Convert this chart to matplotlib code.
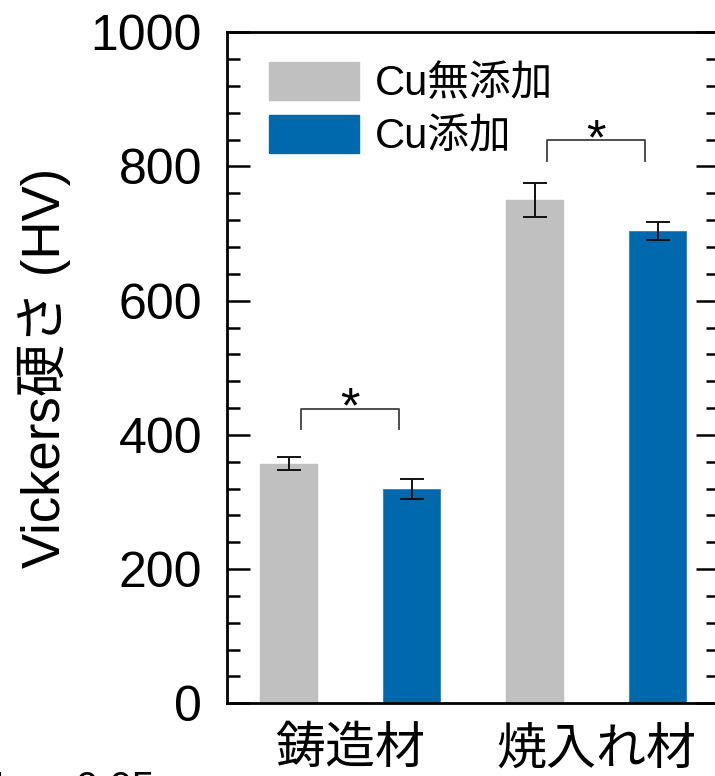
import numpy as np
import matplotlib
matplotlib.use("Agg")
import matplotlib.pyplot as plt
from matplotlib.patches import Patch
from matplotlib.ticker import MultipleLocator, AutoMinorLocator

plt.rcParams['font.family'] = ['Liberation Sans', 'Noto Sans CJK JP', 'DejaVu Sans']

# hardness data (HV), mean and error
groups = ['鋳造材', '焼入れ材']
series = ['Cu無添加', 'Cu添加']
no_cu = [357, 750]
no_cu_err = [10, 25]
with_cu = [319, 704]
with_cu_err = [15, 14]
colors = ['#c0c0c0', '#0068ac']

# significance brackets: (x0, x1, top, leg bottom)
brackets = [(0.1, 0.9, 439, 409), (2.1, 2.9, 839, 808)]
star_y = [418, 818]

fig = plt.figure(figsize=(7.15, 7.76), dpi=100)
ax = fig.add_axes([0.3175, 0.0937, 0.6881, 0.8647])

pos = np.arange(len(groups)) * 2
w = 0.46
ax.bar(pos, no_cu, w, color=colors[0], edgecolor=colors[0], zorder=2)
ax.bar(pos + 1, with_cu, w, color=colors[1], edgecolor='#2a7fbf', linewidth=0.6, zorder=2)
ax.errorbar(pos, no_cu, yerr=no_cu_err, fmt='none', ecolor='#111111',
            elinewidth=1.4, capsize=8.5, capthick=1.4, zorder=3)
ax.errorbar(pos + 1, with_cu, yerr=with_cu_err, fmt='none', ecolor='#111111',
            elinewidth=1.4, capsize=8.5, capthick=1.4, zorder=3)

for (x0, x1, top, bot), sy in zip(brackets, star_y):
    ax.plot([x0, x0, x1, x1], [bot, top, top, bot], color='#404040', lw=1.3)
    ax.text((x0 + x1) / 2, sy, '*', ha='center', va='baseline', fontsize=36)

ax.set_xlim(-0.5, 3.5)
ax.set_ylim(0, 1000)
ax.yaxis.set_major_locator(MultipleLocator(200))
ax.yaxis.set_minor_locator(AutoMinorLocator(5))
ax.set_xticks(pos + 0.5)
ax.set_xticklabels(groups, fontsize=36)
ax.tick_params(axis='x', length=0, pad=17)
ax.tick_params(axis='y', which='both', direction='in', left=True, right=True,
               width=1.8, labelsize=36, pad=18)
ax.tick_params(axis='y', which='major', length=16.5)
ax.tick_params(axis='y', which='minor', length=9.4)
for s in ax.spines.values():
    s.set_linewidth(2)

ax.set_ylabel('Vickers硬さ (HV)', fontsize=38)
ax.yaxis.set_label_coords(-0.317, 0.5)

handles = [Patch(facecolor=c, edgecolor=c) for c in colors]
ax.legend(handles, series, loc='upper left', bbox_to_anchor=(0.085, 0.955),
          frameon=False, fontsize=30, handlelength=2.16, handleheight=1.0,
          handletextpad=0.38, labelspacing=0.26, borderpad=0, borderaxespad=0)

fig.text(-8 / 715, -0.031, '*p < 0.05', fontsize=29, ha='left', va='baseline')

fig.savefig('out.png', dpi=100)
